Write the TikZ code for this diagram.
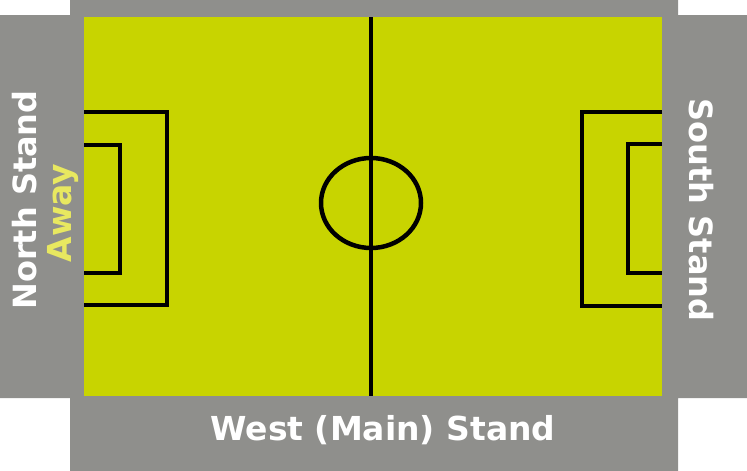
\documentclass[tikz,border=0pt]{standalone}
\usepackage{fontspec}
\setmainfont{DejaVu Sans}
\usepackage{xcolor}
\usepackage{tikz}
\usetikzlibrary{positioning}

\definecolor{standgray}{RGB}{143,143,140}
\definecolor{pitchgreen}{RGB}{200,212,0}
\definecolor{awayyellow}{RGB}{232,232,96}

\tikzset{
    standtext/.style={text=white, inner sep=0pt, font=\bfseries\fontsize{33}{33}\selectfont},
    pitchline/.style={draw=black, line width=4.5pt},
    boxline/.style={draw=black, line width=3.5pt}
}

\begin{document}
\begin{tikzpicture}[x=1pt, y=-1pt]
    \useasboundingbox (0,0) rectangle (747,471);
    \fill[standgray] (70,0) -- (678,0) -- (678,15) -- (747,15) -- (747,398) -- (678,398)
        -- (678,471) -- (70,471) -- (70,398) -- (0,398) -- (0,15) -- (70,15) -- cycle;
    \fill[pitchgreen] (84,17) rectangle (662,396);

    \draw[pitchline] (371,17) -- (371,396);
    \draw[pitchline] (371,203) ellipse [x radius=50, y radius=45];
    \draw[pitchline] (84,112) -- (167,112) -- (167,305) -- (84,305);
    \draw[boxline] (84,145) -- (120,145) -- (120,273) -- (84,273);
    \draw[pitchline] (662,112) -- (582,112) -- (582,306) -- (662,306);
    \draw[boxline] (662,144) -- (628,144) -- (628,273) -- (662,273);

    \node[standtext, anchor=base] (west) at (383,440) {West (Main) Stand};
    \node[standtext, anchor=base, rotate=90, font=\bfseries\fontsize{32}{32}\selectfont]
          (north) at (36,200) {North Stand};
    \node[standtext, anchor=base, rotate=90, text=awayyellow,
          font=\bfseries\fontsize{33}{33}\selectfont] (away) at (71,213) {Away};
    \node[standtext, anchor=base, rotate=-90, font=\bfseries\fontsize{32}{32}\selectfont]
          (south) at (689,210) {South Stand};
\end{tikzpicture}
\end{document}
